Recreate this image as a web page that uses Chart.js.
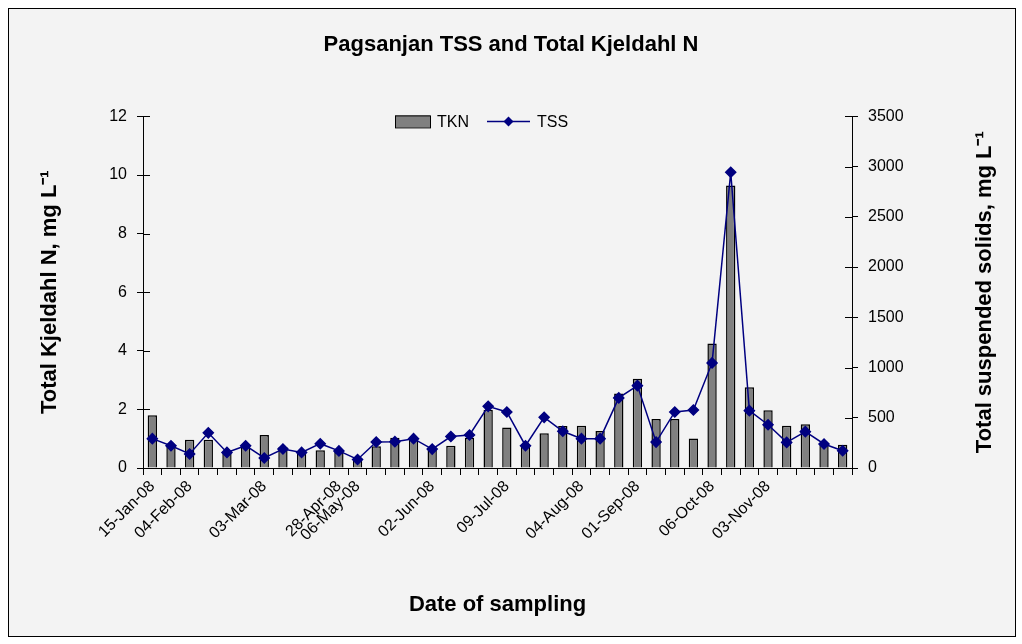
<!DOCTYPE html>
<html>
<head>
<meta charset="utf-8">
<script src="https://cdn.jsdelivr.net/npm/chart.js@4"></script>
<style>
  html, body { margin: 0; padding: 0; background: #fff; }
  #wrap { width: 1022px; height: 644px; }
</style>
</head>
<body>
<div id="wrap"><canvas id="chart" width="1022" height="644"></canvas></div>
<script>
// sampling dates (only some are printed on the axis)
const sampleDates = [
	'15-Jan-08', '', '04-Feb-08', '', '', '', '03-Mar-08', '', '', '',
	'28-Apr-08', '06-May-08', '', '', '', '02-Jun-08', '', '', '', '09-Jul-08',
	'', '', '', '04-Aug-08', '', '', '01-Sep-08', '', '', '',
	'06-Oct-08', '', '', '03-Nov-08', '', '', '', ''
];
// Total Kjeldahl N, mg/L
const tknValues = [
	1.80, 0.74, 0.96, 0.96, 0.50, 0.73, 1.13, 0.71, 0.55, 0.61,
	0.55, 0.28, 0.74, 1.03, 1.00, 0.70, 0.76, 1.03, 1.99, 1.38,
	0.75, 1.19, 1.43, 1.44, 1.26, 2.54, 3.05, 1.67, 1.67, 1.01,
	4.25, 9.64, 2.76, 1.97, 1.44, 1.49, 0.85, 0.79
];
// Total suspended solids, mg/L
const tssValues = [
	292, 222, 140, 350, 155, 222, 100, 189, 155, 242,
	170, 85, 259, 262, 292, 188, 313, 329, 614, 558,
	222, 504, 366, 292, 292, 698, 820, 258, 558, 578,
	1046, 2944, 571, 431, 255, 362, 239, 172
];
const leftTicks = [0, 2, 4, 6, 8, 10, 12];
const rightTicks = [0, 500, 1000, 1500, 2000, 2500, 3000, 3500];

const fontFamily = '"Liberation Sans", Arial, sans-serif';
const titleSize = 22;

// gray panel with a thin frame behind everything
const framePlugin = {
	id: 'frame',
	beforeDraw(chart) {
		const ctx = chart.ctx;
		ctx.save();
		ctx.fillStyle = '#ffffff';
		ctx.fillRect(0, 0, chart.width, chart.height);
		ctx.fillStyle = '#f3f3f3';
		ctx.fillRect(8, 8, 1007, 628);
		ctx.strokeStyle = '#000';
		ctx.lineWidth = 1;
		ctx.strokeRect(8.5, 8.5, 1007, 628);
		ctx.restore();
	}
};

// legend inside the plot, right axis title reading bottom to top,
// and the inner half of the crossing tick marks
const extrasPlugin = {
	id: 'extras',
	afterDraw(chart) {
		const ctx = chart.ctx;
		const area = chart.chartArea;
		const y = area.top + 5;
		ctx.save();

		ctx.strokeStyle = '#000';
		ctx.lineWidth = 1;
		ctx.beginPath();
		chart.scales.y.ticks.forEach(t => {
			const py = Math.round(chart.scales.y.getPixelForValue(t.value)) + 0.5;
			ctx.moveTo(area.left, py);
			ctx.lineTo(area.left + 7, py);
		});
		chart.scales.y1.ticks.forEach(t => {
			const py = Math.round(chart.scales.y1.getPixelForValue(t.value)) + 0.5;
			ctx.moveTo(area.right, py);
			ctx.lineTo(area.right - 7, py);
		});
		ctx.stroke();

		ctx.font = '16px ' + fontFamily;
		ctx.textBaseline = 'middle';
		// TKN swatch
		ctx.fillStyle = '#808080';
		ctx.fillRect(395, y - 6, 35, 12);
		ctx.strokeStyle = '#000';
		ctx.lineWidth = 1;
		ctx.strokeRect(395.5, y - 5.5, 35, 12);
		ctx.fillStyle = '#000';
		ctx.fillText('TKN', 437, y + 1);
		// TSS line + diamond
		ctx.strokeStyle = '#000080';
		ctx.lineWidth = 1.5;
		ctx.beginPath();
		ctx.moveTo(487, y);
		ctx.lineTo(530, y);
		ctx.stroke();
		ctx.fillStyle = '#000080';
		ctx.beginPath();
		ctx.moveTo(508.5, y - 5);
		ctx.lineTo(513.5, y);
		ctx.lineTo(508.5, y + 5);
		ctx.lineTo(503.5, y);
		ctx.closePath();
		ctx.fill();
		ctx.fillStyle = '#000';
		ctx.fillText('TSS', 537, y + 1);

		// right axis title
		ctx.font = 'bold ' + titleSize + 'px ' + fontFamily;
		ctx.textAlign = 'center';
		ctx.translate(985, (area.top + area.bottom) / 2);
		ctx.rotate(-Math.PI / 2);
		ctx.fillText('Total suspended solids, mg L⁻¹', 0, 0);
		ctx.restore();
	}
};

new Chart(document.getElementById('chart'), {
	data: {
		labels: sampleDates,
		datasets: [
			{
				type: 'line',
				label: 'TSS',
				data: tssValues,
				yAxisID: 'y1',
				order: 1,
				borderColor: '#000080',
				backgroundColor: '#000080',
				borderWidth: 1.5,
				pointStyle: 'rectRot',
				pointRadius: 5,
				pointHoverRadius: 5,
				tension: 0
			},
			{
				type: 'bar',
				label: 'TKN',
				data: tknValues,
				yAxisID: 'y',
				order: 2,
				backgroundColor: '#808080',
				borderColor: '#000',
				borderWidth: 1.5,
				categoryPercentage: 1,
				barPercentage: 0.5
			}
		]
	},
	options: {
		responsive: false,
		animation: false,
		layout: { padding: 0 },
		plugins: {
			legend: { display: false },
			tooltip: { enabled: false },
			title: {
				display: true,
				text: 'Pagsanjan TSS and Total Kjeldahl N',
				color: '#000',
				font: { family: fontFamily, size: titleSize, weight: 'bold' },
				padding: { top: 32, bottom: 58 }
			}
		},
		scales: {
			x: {
				offset: true,
				afterFit: scale => { scale.height = 176; },
				grid: { offset: true, drawOnChartArea: false, color: '#000', tickLength: 7 },
				border: { color: '#000' },
				ticks: {
					autoSkip: false,
					minRotation: 45,
					maxRotation: 45,
					padding: 2,
					color: '#000',
					font: { family: fontFamily, size: 16 }
				},
				title: {
					display: true,
					text: 'Date of sampling',
					color: '#000',
					font: { family: fontFamily, size: titleSize, weight: 'bold' },
					padding: { top: 4, bottom: 26 }
				}
			},
			y: {
				position: 'left',
				min: 0,
				max: 12,
				afterFit: scale => { scale.width = 143; },
				afterBuildTicks: scale => { scale.ticks = leftTicks.map(v => ({ value: v })); },
				grid: { drawOnChartArea: false, color: '#000', tickLength: 6 },
				border: { color: '#000' },
				ticks: {
					padding: 10,
					color: '#000',
					font: { family: fontFamily, size: 16 }
				},
				title: {
					display: true,
					text: 'Total Kjeldahl N, mg L⁻¹',
					color: '#000',
					font: { family: fontFamily, size: titleSize, weight: 'bold' },
					padding: { top: 37 }
				}
			},
			y1: {
				position: 'right',
				min: 0,
				max: 3500,
				afterFit: scale => { scale.width = 170; },
				afterBuildTicks: scale => { scale.ticks = rightTicks.map(v => ({ value: v })); },
				grid: { drawOnChartArea: false, color: '#000', tickLength: 6 },
				border: { color: '#000' },
				ticks: {
					padding: 10,
					color: '#000',
					font: { family: fontFamily, size: 16 },
					callback: v => String(v)
				}
			}
		}
	},
	plugins: [framePlugin, extrasPlugin]
});
</script>
</body>
</html>
